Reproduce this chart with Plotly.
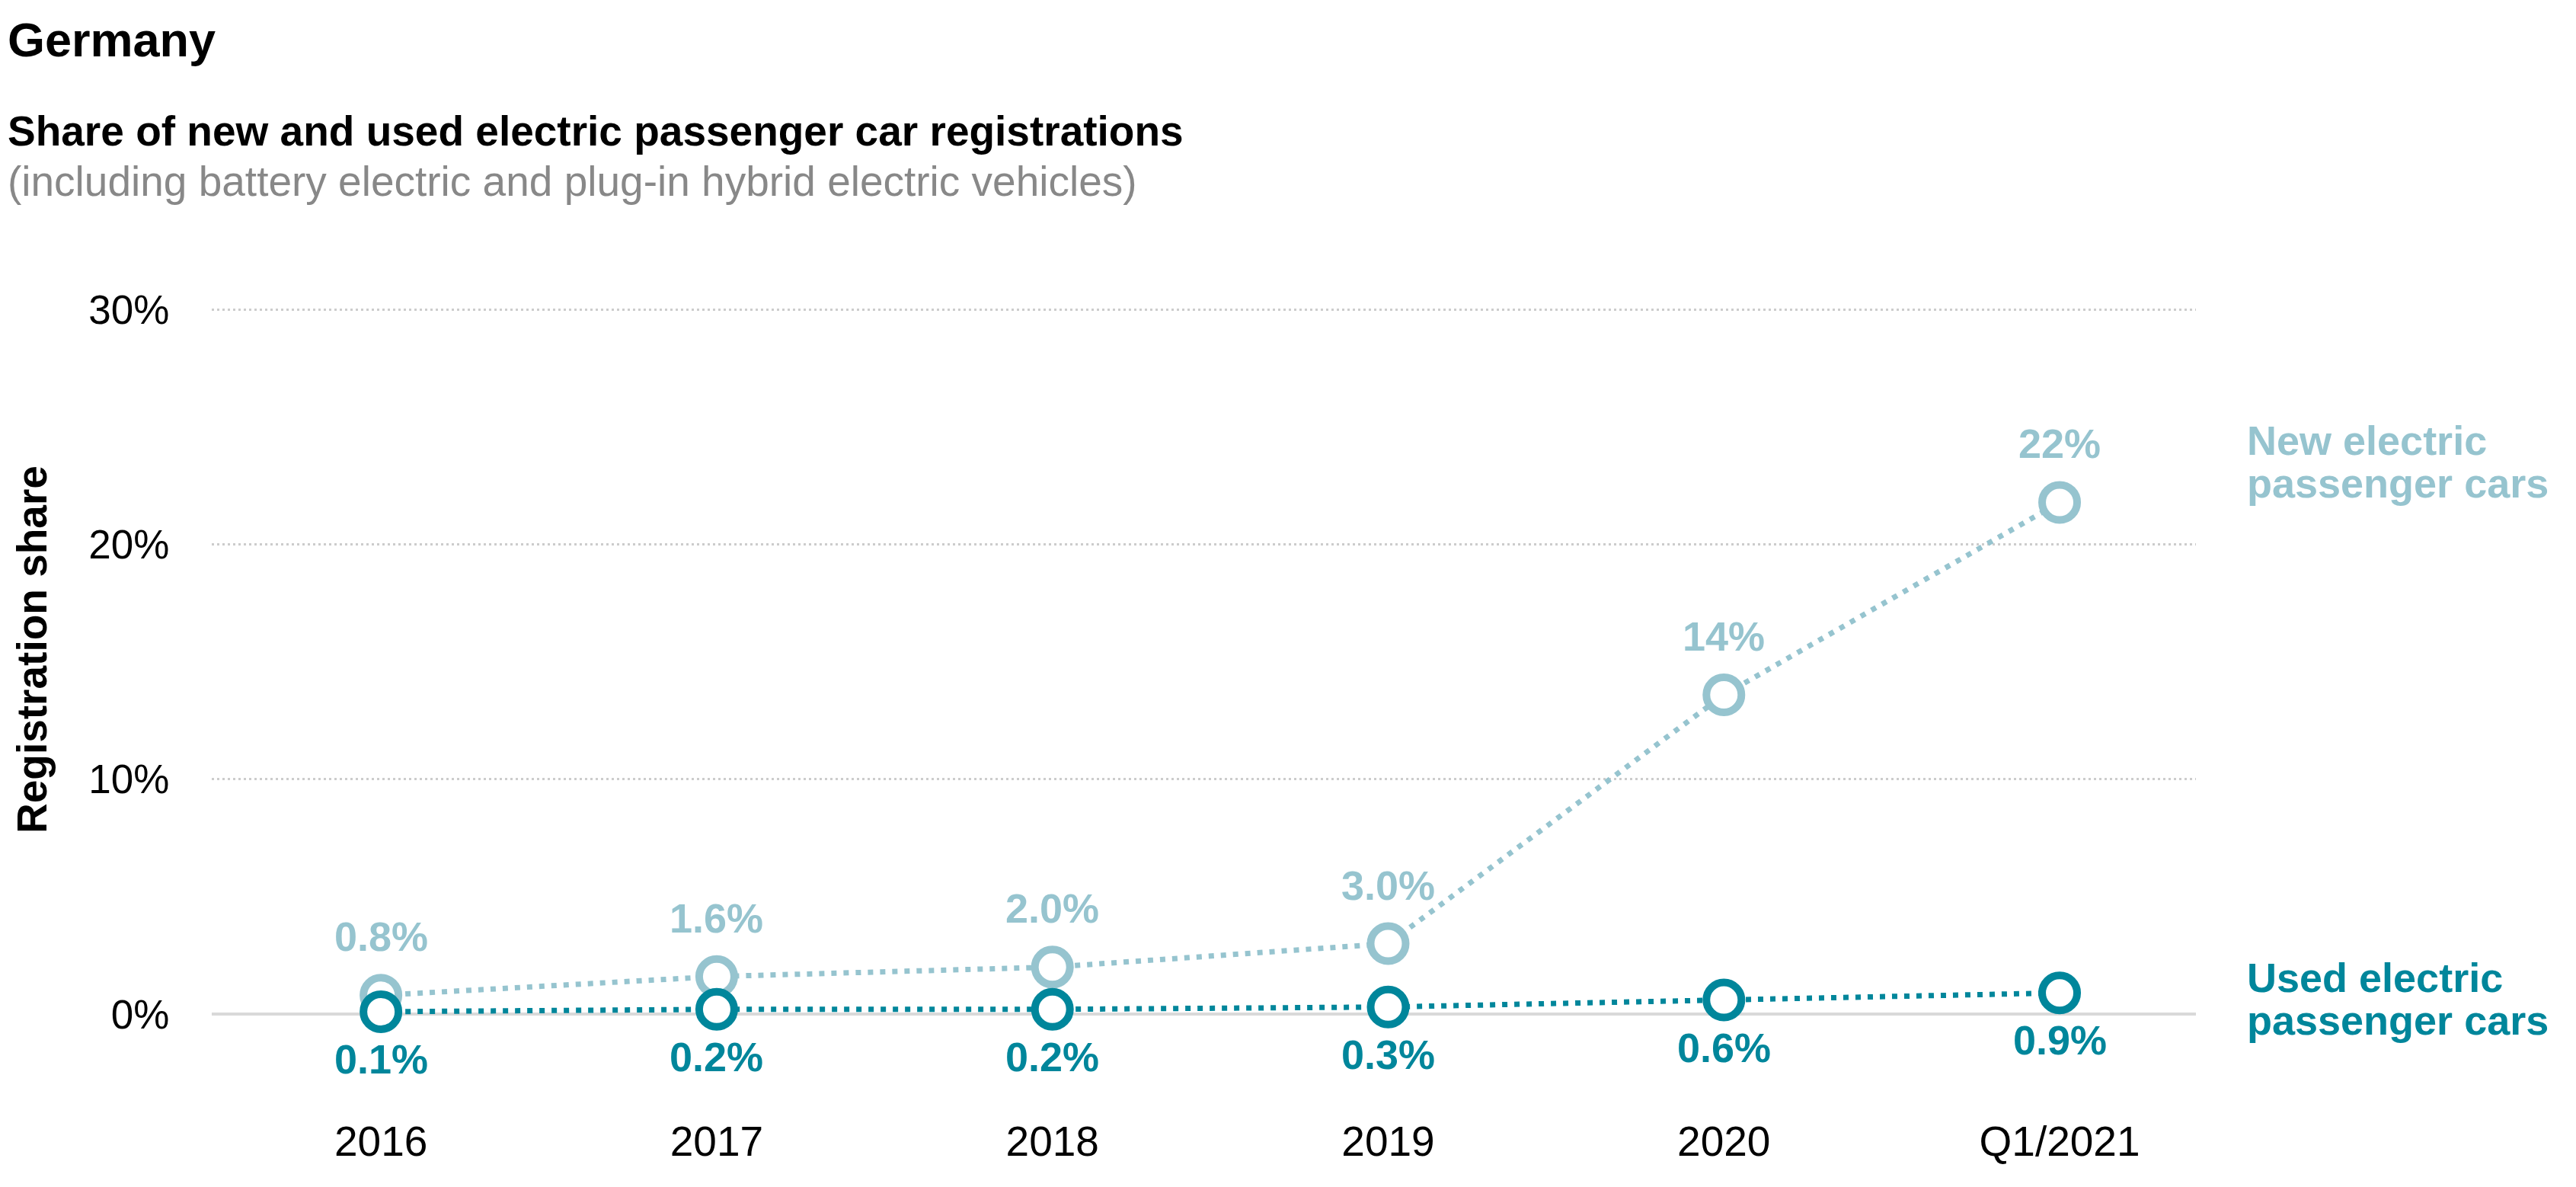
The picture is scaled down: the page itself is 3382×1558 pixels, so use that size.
import plotly.graph_objects as go

# ---- data ----
categories = ["2016", "2017", "2018", "2019", "2020", "Q1/2021"]
new_share = [0.8, 1.6, 2.0, 3.0, 13.6, 21.8]
used_share = [0.1, 0.2, 0.2, 0.3, 0.6, 0.9]
new_labels = ["0.8%", "1.6%", "2.0%", "3.0%", "14%", "22%"]
used_labels = ["0.1%", "0.2%", "0.2%", "0.3%", "0.6%", "0.9%"]
y_tickvals = [0, 10, 20, 30]
y_ticktext = ["0%", "10%", "20%", "30%"]

# ---- style ----
FONT = "Liberation Sans, Arial, Helvetica, sans-serif"
LIGHT = "#96c4cf"
DARK = "#00869b"
W, H = 3382, 1558
L, R = 270, 2875          # plot left/right px
T, B = 368, 1400          # plot top/bottom px


def px(xp):
    return (xp - L) / (R - L)


def py(yp):
    return (B - yp) / (B - T)


fig = go.Figure()

for vals, col in [(new_share, LIGHT), (used_share, DARK)]:
    fig.add_trace(go.Scatter(
        x=categories, y=vals, mode="lines+markers",
        line=dict(color=col, width=7, dash="7px,9px"),
        marker=dict(symbol="circle", size=46, color="white",
                    line=dict(color=col, width=10)),
        cliponaxis=False, showlegend=False, hoverinfo="skip",
    ))

annotations = []
for i, (v, t) in enumerate(zip(new_share, new_labels)):
    annotations.append(dict(x=i, y=v, xref="x", yref="y", text=f"<b>{t}</b>",
                            showarrow=False, yshift=77, yanchor="middle",
                            font=dict(family=FONT, size=54, color=LIGHT)))
for i, (v, t) in enumerate(zip(used_share, used_labels)):
    annotations.append(dict(x=i, y=v, xref="x", yref="y", text=f"<b>{t}</b>",
                            showarrow=False, yshift=-62, yanchor="middle",
                            font=dict(family=FONT, size=54, color=DARK)))

# titles
annotations += [
    dict(x=px(0), y=py(44), xref="paper", yref="paper", text="<b>Germany</b>",
         showarrow=False, xanchor="left", yanchor="middle",
         font=dict(family=FONT, size=63, color="#000000")),
    dict(x=px(0), y=py(164), xref="paper", yref="paper",
         text="<b>Share of new and used electric passenger car registrations</b>",
         showarrow=False, xanchor="left", yanchor="middle",
         font=dict(family=FONT, size=55, color="#000000")),
    dict(x=px(0), y=py(230), xref="paper", yref="paper",
         text="(including battery electric and plug-in hybrid electric vehicles)",
         showarrow=False, xanchor="left", yanchor="middle",
         font=dict(family=FONT, size=55, color="#888888")),
    dict(x=px(34), y=py(845), xref="paper", yref="paper",
         text="<b>Registration share</b>", textangle=-90,
         showarrow=False, xanchor="center", yanchor="middle",
         font=dict(family=FONT, size=55, color="#000000")),
]

# series labels on the right
for text, yc, col in [("New electric", 570, LIGHT), ("passenger cars", 626, LIGHT),
                      ("Used electric", 1275, DARK), ("passenger cars", 1331, DARK)]:
    annotations.append(dict(x=px(2940), y=py(yc), xref="paper", yref="paper",
                            text=f"<b>{text}</b>", showarrow=False,
                            xanchor="left", yanchor="middle",
                            font=dict(family=FONT, size=54, color=col)))

fig.update_layout(
    width=W, height=H,
    margin=dict(l=L, r=W - R, t=T, b=H - B, pad=0),
    paper_bgcolor="white", plot_bgcolor="white",
    font=dict(family=FONT, size=53, color="#000000"),
    annotations=annotations,
    showlegend=False,
    xaxis=dict(
        type="category", range=[-0.504, 5.406],
        showgrid=False, zeroline=False, showline=False,
        ticks="outside", ticklen=42, tickcolor="rgba(0,0,0,0)",
        tickfont=dict(family=FONT, size=55, color="#000000"),
        fixedrange=True,
    ),
    yaxis=dict(
        range=[-2.5, 31], tickvals=y_tickvals, ticktext=y_ticktext,
        showgrid=True, gridcolor="#cccccc", gridwidth=3, griddash="3px,4px",
        zeroline=True, zerolinecolor="#d9d9d9", zerolinewidth=4,
        showline=False,
        ticks="outside", ticklen=44, tickcolor="rgba(0,0,0,0)",
        tickfont=dict(family=FONT, size=53, color="#000000"),
        fixedrange=True,
    ),
)

fig.write_html("out.html")
